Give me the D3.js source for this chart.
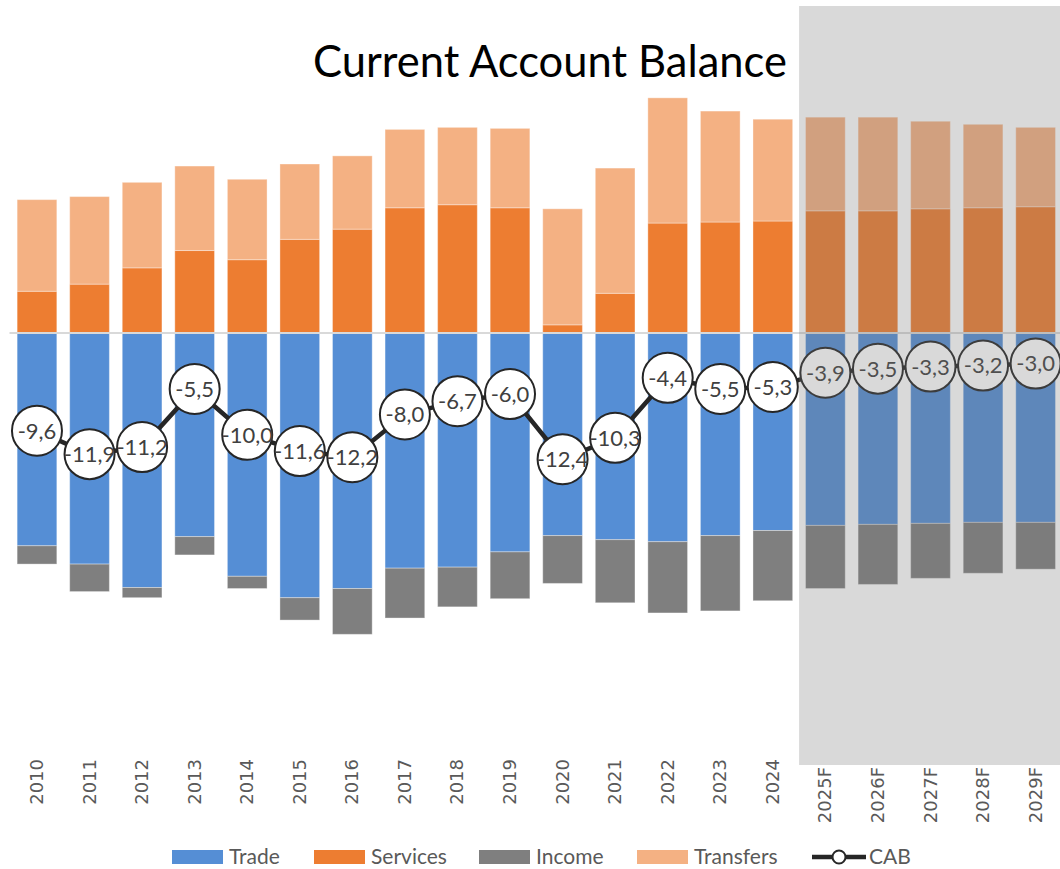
<!DOCTYPE html>
<html>
<head>
<meta charset="utf-8">
<script src="https://cdn.jsdelivr.net/npm/d3@7/dist/d3.min.js"></script>
<style>
  html, body { margin: 0; padding: 0; background: #ffffff; }
  svg { display: block; }
</style>
</head>
<body>
<svg id="chart" width="1060" height="869"></svg>
<script>
// ---- data ----
const years = ['2010','2011','2012','2013','2014','2015','2016','2017','2018','2019','2020','2021','2022','2023','2024','2025F','2026F','2027F','2028F','2029F'];
const forecastYears = ['2025F','2026F','2027F','2028F','2029F'];
const trade     = [-20.9,-22.7,-25.0,-20.0,-23.9,-26.0,-25.1,-23.1,-23.0,-21.5,-19.9,-20.3,-20.5,-19.9,-19.4,-18.9,-18.8,-18.7,-18.6,-18.6];
const services  = [4.1,4.8,6.4,8.1,7.2,9.2,10.2,12.3,12.6,12.3,0.8,3.9,10.8,10.9,11.0,12.0,12.0,12.2,12.3,12.4];
const income    = [-1.8,-2.7,-1.0,-1.8,-1.2,-2.2,-4.5,-4.9,-3.9,-4.6,-4.7,-6.2,-7.0,-7.4,-6.9,-6.2,-5.9,-5.4,-5.0,-4.6];
const transfers = [9.0,8.6,8.4,8.3,7.9,7.4,7.2,7.7,7.6,7.8,11.4,12.3,12.3,10.9,10.0,9.2,9.2,8.6,8.2,7.8];
const cab       = [-9.6,-11.9,-11.2,-5.5,-10.0,-11.6,-12.2,-8.0,-6.7,-6.0,-12.4,-10.3,-4.4,-5.5,-5.3,-3.9,-3.5,-3.3,-3.2,-3.0];
const seriesNames = ['Trade','Services','Income','Transfers'];
const seriesColors = {Trade:'#558ED5', Services:'#ED7D31', Income:'#7F7F7F', Transfers:'#F4B183'};
const title = 'Current Account Balance';

// ---- build rows ----
const rows = years.map((y,i)=>({year:y, Trade:trade[i], Services:services[i], Income:income[i], Transfers:transfers[i], CAB:cab[i]}));

const svg = d3.select('#chart');
const x = d3.scaleBand().domain(years).range([10.7, 1061.9]).paddingInner(0.245).paddingOuter(0.1225);
const y = d3.scaleLinear().domain([-40, 30]).range([740.2, 27.6]);

// stacked: positives (Services then Transfers), negatives (Trade then Income)
const stack = d3.stack().keys(seriesNames).offset(d3.stackOffsetDiverging);
const stacked = stack(rows);

const gBars = svg.append('g');
stacked.forEach(layer => {
  gBars.append('g').selectAll('rect').data(layer).join('rect')
    .attr('x', d => x(d.data.year))
    .attr('width', x.bandwidth())
    .attr('y', d => y(Math.max(d[0], d[1])))
    .attr('height', d => Math.abs(y(d[0]) - y(d[1])))
    .attr('fill', seriesColors[layer.key])
    .attr('stroke', '#ffffff').attr('stroke-opacity', 0.35).attr('stroke-width', 1);
});

// zero line
svg.append('line')
  .attr('x1', 9.5).attr('x2', 1060)
  .attr('y1', y(0)).attr('y2', y(0))
  .attr('stroke', '#D9D9D9').attr('stroke-width', 2);

// CAB line
const cx = d => x(d.year) + x.bandwidth()/2;
svg.append('path').datum(rows)
  .attr('d', d3.line().x(cx).y(d => y(d.CAB)))
  .attr('fill', 'none').attr('stroke', '#262626').attr('stroke-width', 4.5);

const fmt = v => d3.format('.1f')(v).replace('\u2212', '-').replace('.', ',');
const labels = svg.append('g').selectAll('g').data(rows).join('g')
  .attr('transform', d => `translate(${cx(d)},${y(d.CAB)})`);
labels.append('circle').attr('r', 25).attr('fill', '#ffffff').attr('stroke', '#262626').attr('stroke-width', 2);
labels.append('text').text(d => fmt(d.CAB))
  .attr('text-anchor', 'middle').attr('dy', '0.36em')
  .attr('font-family', 'Lato, "Open Sans", sans-serif').attr('font-size', 22)
  .attr('fill', '#404040');

// forecast shading (semi-transparent overlay)
const fStart = x(forecastYears[0]) - x.step()*x.paddingInner()/2;
svg.append('rect')
  .attr('x', fStart).attr('y', 6)
  .attr('width', 1060 - fStart).attr('height', 759)
  .attr('fill', 'rgb(119,119,119)').attr('fill-opacity', 0.28);

// category labels
svg.append('g').selectAll('text').data(years).join('text')
  .attr('transform', d => `translate(${x(d) + x.bandwidth()/2 + 6},${forecastYears.includes(d) ? 767 : 759}) rotate(-90)`)
  .attr('text-anchor', 'end')
  .attr('font-family', '"DejaVu Sans", sans-serif').attr('font-size', 18)
  .attr('fill', '#595959')
  .text(d => d);

// title
const t = svg.append('text').text(title)
  .attr('x', 550).attr('y', 77).attr('text-anchor', 'middle')
  .attr('font-family', 'Lato, "Open Sans", sans-serif').attr('font-size', 40).attr('fill', '#000000');
const tw = t.node().getComputedTextLength();
t.attr('font-size', 40 * 474 / tw);

// legend
const legend = svg.append('g').attr('font-family', 'Lato, "Open Sans", sans-serif').attr('font-size', 21).attr('fill', '#595959');
const legendX = {Trade:172, Services:314, Income:479, Transfers:637};
seriesNames.forEach(name => {
  legend.append('rect').attr('x', legendX[name]).attr('y', 850).attr('width', 51).attr('height', 14).attr('fill', seriesColors[name]);
  legend.append('text').attr('x', legendX[name] + 57).attr('y', 864).text(name);
});
legend.append('line').attr('x1', 812).attr('x2', 866).attr('y1', 857).attr('y2', 857).attr('stroke', '#262626').attr('stroke-width', 4.5);
legend.append('circle').attr('cx', 839).attr('cy', 857).attr('r', 6.5).attr('fill', '#ffffff').attr('stroke', '#262626').attr('stroke-width', 2);
legend.append('text').attr('x', 869).attr('y', 864).text('CAB');
</script>
</body>
</html>
